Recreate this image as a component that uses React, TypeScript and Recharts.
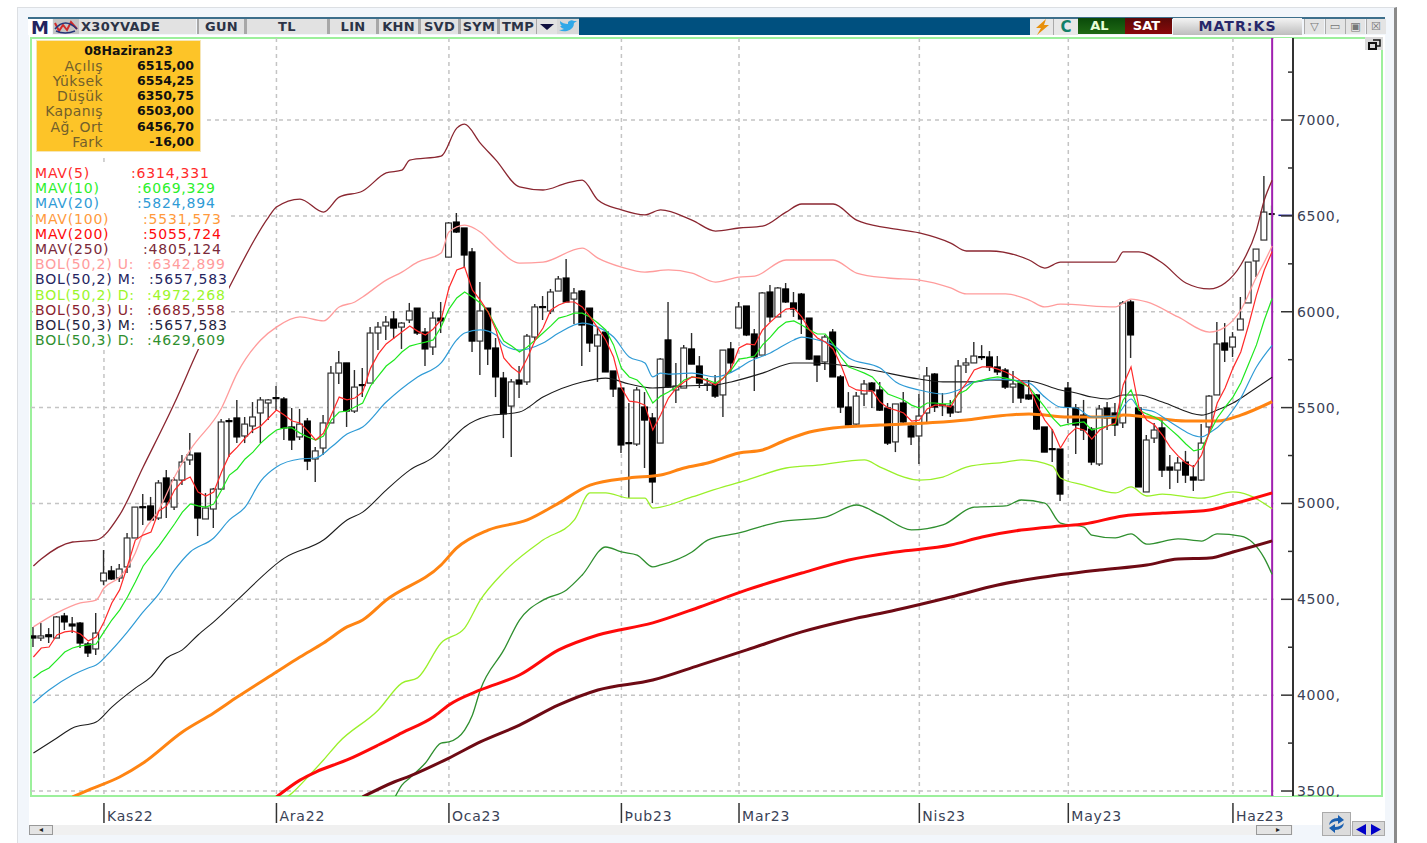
import {
  ComposedChart,
  Bar,
  Line,
  XAxis,
  YAxis,
  CartesianGrid,
  ReferenceArea,
  ReferenceLine,
} from "recharts";

const FONT = '"DejaVu Sans", Verdana, sans-serif';

const OPEN = [4309,4298,4315,4298,4413,4371,4376,4267,4241,4596,4648,4611,4669,4820,4983,4987,4924,5133,4981,5122,5227,5263,4919,4971,5075,5432,5446,5352,5404,5472,5524,5552,5545,5399,5347,5430,5232,5289,5420,5680,5733,5482,5620,5628,5889,5926,5962,5920,5957,6019,5894,5816,5967,6285,6468,6437,6312,5847,6019,5811,5654,5508,5644,5634,5868,6027,6004,6108,6176,6066,6108,6019,5821,5894,5691,5602,5317,5310,5503,5446,5315,5853,5592,5602,5806,5717,5618,5623,5566,5806,5915,6030,5884,5774,6103,5973,6119,6046,6092,5967,5769,5738,5894,5660,5503,5414,5571,5628,5592,5498,5321,5524,5404,5352,5472,5675,5515,5508,5477,5722,5733,5766,5764,5712,5696,5607,5628,5566,5566,5399,5286,5284,5602,5498,5461,5388,5206,5498,5472,5420,6051,5498,5060,5341,5394,5190,5174,5216,5138,5122,5399,5566,5837,5816,5905,6046,6265,6374,6515];
const HIGH = [4356,4376,4350,4413,4429,4408,4382,4277,4429,4757,4674,4684,4846,4981,5049,5034,5122,5174,5138,5253,5367,5263,5054,5081,5441,5445,5540,5451,5529,5555,5545,5613,5555,5498,5493,5446,5294,5461,5717,5795,5733,5696,5706,5920,5946,5978,6004,5946,6046,6019,5915,5999,6051,6468,6515,6437,6332,6155,6019,5863,5686,5649,5717,5884,6040,6082,6119,6186,6275,6124,6113,6019,5915,5894,5691,5602,5524,5607,5581,5472,5759,6051,5733,5827,5889,5769,5654,5670,5800,5842,6051,6030,5910,6103,6139,6129,6150,6103,6098,5967,5769,5879,5910,5670,5581,5581,5644,5634,5634,5524,5519,5581,5420,5571,5712,5680,5576,5540,5748,5759,5842,5826,5795,5769,5706,5691,5644,5644,5571,5399,5388,5284,5634,5519,5540,5399,5514,5529,5524,6056,6061,5498,5357,5420,5435,5253,5242,5274,5200,5414,5566,5946,5941,5894,6077,6259,6327,6708,6554];
const LOW = [4251,4283,4272,4298,4340,4324,4246,4199,4210,4575,4601,4590,4637,4820,4888,4914,4914,4924,4966,5096,5200,4830,4919,4872,5070,5242,5315,5315,5367,5315,5435,5487,5331,5279,5331,5174,5112,5253,5420,5623,5399,5472,5555,5628,5800,5853,5858,5806,5941,5879,5717,5774,5889,6285,6411,6233,5790,5670,5722,5555,5341,5242,5550,5618,5853,5957,5988,6108,6051,5936,5717,5790,5634,5686,5555,5263,5028,5300,5185,5002,5315,5602,5524,5602,5727,5602,5587,5550,5451,5680,5915,5873,5587,5774,5946,5973,6046,5973,5884,5748,5634,5696,5660,5472,5399,5409,5508,5498,5482,5305,5268,5420,5305,5206,5420,5477,5456,5451,5472,5680,5733,5748,5691,5670,5597,5524,5524,5540,5383,5268,5216,5013,5420,5258,5331,5200,5195,5383,5352,5394,5759,5086,5060,5315,5138,5075,5107,5107,5065,5117,5362,5566,5738,5764,5905,6046,6181,6374,6351];
const CLOSE = [4298,4309,4305,4408,4382,4361,4272,4220,4324,4637,4606,4658,4820,4981,4978,4914,5107,5008,5122,5216,5253,4924,4976,5075,5425,5428,5347,5414,5451,5540,5540,5548,5394,5331,5414,5221,5274,5420,5680,5733,5482,5607,5616,5889,5920,5946,5915,5941,6004,5889,5806,5967,5952,6463,6416,6296,5847,6004,5806,5660,5467,5634,5623,5873,6025,6023,6103,6171,6051,6098,5931,5837,5879,5686,5597,5305,5313,5592,5435,5112,5753,5607,5613,5811,5727,5628,5623,5560,5800,5733,6025,5879,5764,6098,5973,6124,6051,6014,5962,5753,5722,5868,5660,5503,5409,5560,5623,5587,5487,5315,5519,5425,5347,5456,5665,5503,5511,5472,5717,5733,5769,5762,5712,5686,5607,5623,5550,5545,5388,5268,5282,5049,5503,5409,5383,5216,5493,5446,5409,6046,5879,5086,5331,5383,5174,5174,5211,5148,5122,5315,5560,5832,5800,5868,5962,6259,6327,6520,6503];

const MAV5 = [4199,4246,4251,4314,4330,4335,4319,4283,4303,4382,4481,4549,4674,4809,4835,4851,4961,4987,5070,5117,5138,5060,5039,5060,5164,5253,5294,5341,5383,5404,5446,5487,5461,5430,5420,5378,5331,5367,5461,5555,5540,5550,5581,5706,5780,5832,5863,5894,5926,5899,5879,5910,5957,6124,6218,6233,6113,6061,5999,5905,5759,5712,5680,5759,5853,5915,6009,6035,6051,6051,6025,5973,5915,5853,5764,5602,5534,5529,5513,5383,5461,5550,5602,5634,5660,5654,5639,5618,5654,5706,5811,5832,5827,5905,5946,5983,6014,6019,5973,5905,5863,5842,5806,5722,5613,5592,5587,5587,5529,5498,5487,5472,5430,5435,5493,5513,5513,5503,5576,5628,5696,5712,5712,5701,5686,5665,5639,5607,5513,5435,5383,5289,5357,5394,5383,5336,5383,5404,5420,5618,5712,5503,5435,5409,5357,5294,5248,5211,5190,5253,5373,5524,5602,5706,5790,5931,6087,6218,6314];
const MAV10 = [4090,4121,4142,4183,4225,4246,4257,4262,4267,4330,4392,4444,4512,4590,4674,4726,4778,4835,4893,4955,4997,4987,4981,4997,5070,5148,5180,5232,5268,5315,5352,5383,5394,5394,5367,5347,5331,5352,5435,5477,5482,5503,5524,5613,5665,5717,5748,5790,5821,5832,5842,5853,5920,6014,6072,6103,6077,6046,5999,5920,5847,5821,5790,5816,5853,5889,5926,5967,5978,5993,5993,5973,5941,5905,5827,5706,5660,5644,5602,5524,5560,5581,5607,5644,5660,5654,5644,5628,5654,5696,5753,5759,5769,5827,5868,5915,5946,5952,5931,5905,5884,5884,5832,5764,5712,5696,5680,5660,5613,5571,5555,5540,5513,5498,5524,5524,5519,5519,5571,5592,5634,5644,5654,5660,5654,5644,5628,5607,5555,5503,5446,5404,5414,5420,5425,5383,5394,5404,5414,5540,5592,5487,5467,5451,5425,5388,5352,5310,5274,5284,5367,5446,5503,5555,5628,5727,5827,5957,6069];

// sparse series: [candle index, value]
const MAV20 = [[0,3959],[2,4027],[5,4105],[7,4142],[8,4157],[10,4236],[12,4330],[14,4434],[16,4528],[18,4653],[20,4747],[23,4820],[25,4914],[27,4981],[29,5117],[31,5190],[34,5232],[36,5237],[38,5294],[40,5362],[42,5399],[45,5529],[49,5660],[52,5733],[54,5853],[55,5889],[57,5905],[59,5879],[60,5826],[62,5800],[65,5837],[67,5889],[70,5941],[72,5920],[74,5868],[76,5764],[78,5733],[79,5660],[80,5680],[81,5675],[84,5680],[87,5660],[90,5706],[91,5733],[94,5785],[97,5853],[98,5868],[100,5853],[102,5826],[104,5759],[108,5706],[110,5634],[113,5592],[116,5571],[118,5592],[120,5634],[123,5649],[127,5628],[129,5555],[131,5503],[133,5498],[135,5451],[138,5456],[140,5545],[141,5498],[143,5477],[145,5425],[149,5347],[150,5367],[152,5435],[154,5550],[156,5712],[158,5825]];
const MAV100 = [[5,3469],[7,3505],[11,3573],[14,3646],[19,3808],[23,3907],[26,3990],[31,4121],[34,4199],[37,4272],[40,4356],[42,4392],[45,4496],[52,4679],[54,4768],[58,4861],[63,4914],[67,5002],[71,5096],[76,5133],[80,5148],[83,5185],[86,5211],[90,5263],[93,5279],[96,5331],[99,5373],[102,5394],[108,5409],[114,5420],[119,5435],[122,5451],[127,5467],[132,5451],[138,5451],[139,5461],[142,5451],[147,5430],[151,5430],[154,5461],[158,5531]];
const MAV200 = [[31,3469],[34,3557],[36,3599],[40,3662],[44,3740],[47,3803],[51,3886],[53,3949],[57,4027],[62,4105],[67,4236],[72,4314],[79,4377],[85,4460],[91,4549],[98,4637],[104,4705],[110,4747],[117,4783],[121,4825],[126,4861],[131,4882],[134,4893],[139,4935],[144,4950],[150,4966],[153,4997],[158,5055]];
const MAV250 = [[42,3469],[46,3547],[48,3578],[53,3672],[57,3756],[62,3844],[67,3949],[72,4027],[79,4079],[85,4157],[91,4236],[98,4330],[104,4392],[110,4444],[117,4512],[123,4575],[128,4611],[136,4653],[142,4679],[146,4710],[150,4715],[153,4747],[158,4805]];
const BOL2_UP = [[0,4356],[3,4429],[6,4481],[8,4496],[9,4559],[11,4616],[13,4742],[14,4846],[16,4966],[18,5138],[20,5279],[24,5498],[26,5680],[29,5853],[31,5920],[34,5973],[37,5952],[39,6025],[41,6051],[42,6077],[45,6165],[47,6207],[49,6259],[52,6306],[53,6416],[55,6452],[57,6416],[59,6338],[62,6254],[65,6259],[70,6332],[72,6280],[75,6233],[78,6207],[81,6218],[84,6202],[87,6155],[90,6181],[92,6186],[96,6270],[102,6270],[105,6202],[109,6176],[113,6165],[117,6124],[119,6093],[124,6093],[127,6061],[129,6025],[131,6040],[138,6025],[140,6066],[142,6051],[146,5973],[150,5894],[152,5920],[154,6009],[156,6181],[157,6259],[158,6343]];
const BOL2_MID = [[0,3698],[3,3777],[5,3829],[8,3860],[10,3938],[13,4037],[15,4095],[17,4194],[19,4236],[21,4314],[23,4382],[26,4496],[32,4715],[37,4809],[40,4914],[42,4955],[45,5070],[48,5174],[51,5242],[53,5321],[55,5399],[58,5456],[62,5477],[65,5555],[70,5634],[73,5654],[76,5623],[79,5602],[83,5613],[87,5618],[89,5634],[93,5680],[97,5733],[99,5733],[104,5717],[107,5696],[113,5649],[116,5634],[120,5634],[122,5644],[127,5639],[131,5592],[133,5576],[135,5555],[137,5545],[139,5566],[141,5566],[144,5529],[149,5461],[151,5487],[153,5524],[155,5576],[158,5658]];
const BOL2_LOW = [[32,3458],[33,3490],[35,3573],[37,3662],[39,3756],[44,3923],[47,4063],[49,4090],[52,4272],[55,4350],[57,4496],[60,4642],[65,4809],[69,4914],[71,5055],[73,5055],[76,5028],[78,5028],[79,4976],[80,4981],[84,5034],[88,5086],[91,5122],[96,5185],[100,5200],[106,5227],[108,5190],[113,5122],[116,5138],[119,5190],[124,5216],[126,5227],[130,5195],[131,5133],[134,5096],[138,5055],[140,5086],[142,5039],[144,5049],[149,5028],[153,5060],[155,5044],[158,4972]];
const BOL3_UP = [[0,4674],[1,4710],[5,4799],[8,4809],[11,4940],[14,5190],[18,5524],[21,5800],[25,6129],[30,6494],[31,6546],[34,6588],[37,6520],[39,6598],[42,6630],[45,6724],[47,6739],[48,6791],[52,6812],[54,6958],[55,6979],[57,6880],[59,6791],[62,6651],[65,6635],[68,6671],[70,6687],[72,6583],[75,6531],[78,6505],[80,6531],[84,6478],[87,6421],[90,6437],[93,6447],[96,6520],[98,6562],[102,6562],[105,6478],[109,6437],[113,6411],[117,6358],[119,6317],[122,6317],[127,6270],[129,6228],[131,6259],[138,6259],[139,6312],[141,6312],[144,6254],[147,6150],[150,6119],[152,6150],[154,6244],[156,6426],[157,6583],[158,6686]];
const BOL3_LOW = [[46,3458],[47,3531],[48,3568],[50,3646],[52,3750],[53,3756],[55,3818],[56,3897],[57,4027],[60,4236],[62,4392],[65,4496],[68,4549],[70,4627],[73,4773],[75,4747],[77,4731],[79,4669],[80,4679],[84,4747],[86,4809],[90,4846],[95,4903],[101,4929],[105,4992],[108,4940],[112,4862],[116,4888],[120,4981],[124,4987],[126,5018],[129,5002],[131,4898],[134,4877],[135,4835],[138,4820],[140,4841],[142,4788],[146,4815],[149,4804],[151,4841],[154,4830],[157,4715],[158,4630]];

const PRICE_TICKS = [3500,3750,4000,4250,4500,4750,5000,5250,5500,5750,6000,6250,6500,6750,7000,7250];
const PRICE_GRID = [3500,4000,4500,5000,5500,6000,6500,7000];
const MONTH_AT = [9,31,53,75,90,113,132,153];
const MONTH_LABELS = ["Kas22","Ara22","Oca23","Þub23","Mar23","Nis23","May23","Haz23"];

const INFO_TITLE = "08Haziran23";
const INFO_NAMES = ["Açılış","Yüksek","Düşük","Kapanış","Ağ. Ort","Fark"];
const INFO_VALUES = ["6515,00","6554,25","6350,75","6503,00","6456,70","-16,00"];

const LEGEND_NAMES = ["MAV(5)","MAV(10)","MAV(20)","MAV(100)","MAV(200)","MAV(250)","BOL(50,2) U:","BOL(50,2) M:","BOL(50,2) D:","BOL(50,3) U:","BOL(50,3) M:","BOL(50,3) D:"];
const LEGEND_VALUES = [":6314,331",":6069,329",":5824,894",":5531,573",":5055,724",":4805,124",":6342,899",":5657,583",":4972,268",":6685,558",":5657,583",":4629,609"];
const LEGEND_VALUE_X = [131,137,137,143,143,143,147,149,147,147,149,147];

const C_MAV5 = "#ff2a2a";
const C_MAV10 = "#1fe81f";
const C_MAV20 = "#2f9bd6";
const C_MAV100 = "#ff8412";
const C_MAV200 = "#ff0a0a";
const C_MAV250 = "#6e0a14";
const C_UP2 = "#ff9c9c";
const C_MID = "#1c1c1c";
const C_LOW2 = "#9af02a";
const C_UP3 = "#8a2630";
const C_LOW3 = "#2f8f2f";
const LEGEND_COLORS = [C_MAV5,"#2cf02c",C_MAV20,"#ff9a3c",C_MAV200,"#7a2a3a",C_UP2,"#25255f","#9cf52c","#8a1f30","#25253f","#2f8f2f"];

const SPARSE = { MAV20, MAV100, MAV200, MAV250, BOL2_UP, BOL2_MID, BOL2_LOW, BOL3_UP, BOL3_LOW };

const rows: any[] = OPEN.map((o, i) => ({
  i,
  open: o,
  close: CLOSE[i],
  range: [LOW[i], HIGH[i]],
  high: HIGH[i],
  low: LOW[i],
  MAV5: MAV5[i],
  MAV10: MAV10[i],
}));
Object.entries(SPARSE).forEach(([key, pts]) => {
  pts.forEach(([i, v]) => {
    rows[i][key] = v;
  });
});

const LAST = OPEN.length - 1;

function Candle(props: any) {
  const { x, y, width, height, payload } = props;
  const { open, close, high, low, i } = payload;
  const perUnit = height / Math.max(high - low, 1);
  const cx = x + width / 2;
  const top = y + (high - Math.max(open, close)) * perUnit;
  const bottom = y + (high - Math.min(open, close)) * perUnit;
  const up = close >= open;
  if (i === LAST) {
    return (
      <g>
        <line x1={cx} x2={cx} y1={y} y2={y + height} stroke="#8ef58e" strokeWidth={2} />
        <rect x={cx - 3} y={top} width={6} height={2} fill="#111" />
      </g>
    );
  }
  return (
    <g>
      <line x1={cx} x2={cx} y1={y} y2={y + height} stroke="#2a2a2a" strokeWidth={1.4} />
      <rect
        x={x + 0.6}
        y={top}
        width={width - 1.2}
        height={Math.max(bottom - top, 1)}
        fill={up ? "#fff" : "#000"}
        stroke={up ? "#333" : "#000"}
        strokeWidth={1.2}
      />
    </g>
  );
}

function PriceTick(props: any) {
  const { x, y, payload } = props;
  const major = payload.value % 500 === 0;
  const boxTop = y - 9;
  return (
    <g>
      <line x1={x - (major ? 12 : 5)} x2={x} y1={y} y2={y} stroke="#333" strokeWidth={1.5} />
      {major && (
        <svg x={x + 4} y={boxTop} width={60} height={Math.min(18, 797 - boxTop)} overflow="hidden">
          <text x={0} y={14} fontSize={14} letterSpacing={0.7} fill="#3a4256" fontFamily={FONT}>
            {payload.value},
          </text>
        </svg>
      )}
    </g>
  );
}

function MonthTick(props: any) {
  const { x, y, payload } = props;
  const label = MONTH_LABELS[MONTH_AT.indexOf(payload.value)];
  return (
    <g>
      <line x1={x} x2={x} y1={y + 7} y2={y + 27} stroke="#333" strokeWidth={1.5} />
      <text x={x + 3} y={y + 25} fontSize={14} letterSpacing={0.8} fill="#3a4256" fontFamily={FONT}>
        {label}
      </text>
    </g>
  );
}

function Box({ l, t, w, h, style, children }: any) {
  return (
    <div style={{ position: "absolute", left: l, top: t, width: w, height: h, boxSizing: "border-box", ...style }}>
      {children}
    </div>
  );
}

function ToolButton({ l, w, label }: any) {
  return (
    <Box
      l={l}
      t={19}
      w={w}
      h={15}
      style={{
        background: "#e2e2e2",
        borderRight: "2px solid #a8a8a8",
        borderLeft: "2px solid #a8a8a8",
        textAlign: "center",
        font: `bold 13px/15px ${FONT}`,
        color: "#2b3346",
        letterSpacing: 0.3,
      }}
    >
      {label}
    </Box>
  );
}

function Chrome() {
  return (
    <>
      <Box l={17} t={7} w={1380} h={836} style={{ background: "#f2f6fb", border: "1px solid #dcdfe3", borderRight: "3px solid #8a8a8a", borderBottom: "none" }} />
      <Box l={29} t={35} w={1356} h={790} style={{ background: "#fff" }} />
      <Box l={28} t={17} w={1357} h={2} style={{ background: "#3d6f8c" }} />
      <Box l={30} t={37} w={1353} h={760} style={{ border: "2px solid #9cf09c" }} />
      <Box l={28} t={19} w={24} h={16} style={{ background: "#fff", font: `bold 18px/17px ${FONT}`, color: "#23235f", textAlign: "center" }}>
        M
      </Box>
      <Box l={53} t={19} w={26} h={15} style={{ background: "#c4c4c4" }}>
        <svg width={26} height={15}>
          <polyline points="2,4 6,12 10,6 14,11 18,3 24,10" fill="none" stroke="#d02a2a" strokeWidth={2} />
          <path d="M2 10 Q12 -2 24 10 M3 12 Q12 16 22 12" fill="none" stroke="#25357a" strokeWidth={1.5} />
        </svg>
      </Box>
      <Box l={79} t={19} w={117} h={15} style={{ background: "#e2e2e2", font: `bold 13px/15px ${FONT}`, color: "#2b3346", paddingLeft: 2, letterSpacing: 0.35 }}>
        X30YVADE
      </Box>
      <ToolButton l={197} w={49} label="GUN" />
      <ToolButton l={245} w={84} label="TL" />
      <ToolButton l={328} w={50} label="LIN" />
      <ToolButton l={377} w={43} label="KHN" />
      <ToolButton l={419} w={41} label="SVD" />
      <ToolButton l={459} w={40} label="SYM" />
      <ToolButton l={498} w={40} label="TMP" />
      <Box l={537} t={19} w={20} h={15} style={{ background: "#e2e2e2" }}>
        <svg width={20} height={15}>
          <polygon points="3,5 17,5 10,11" fill="#10103f" />
        </svg>
      </Box>
      <Box l={557} t={19} w={22} h={15} style={{ background: "#d8d8d8" }}>
        <svg width={22} height={15}>
          <path d="M2 11 Q6 13 10 12 Q17 10 17 4 L20 2 L17 2 Q14 0 11 3 L11 5 Q6 5 3 2 Q3 6 5 7 L3 7 Q5 10 7 10 Q5 11 2 11 Z" fill="#2fa8e8" />
        </svg>
      </Box>
      <Box l={579} t={18} w={451} h={17} style={{ background: "#00507f" }} />
      <Box l={1030} t={19} w={24} h={16} style={{ background: "#e8e8e8", borderRight: "1px solid #aaa" }}>
        <svg width={24} height={16}>
          <polygon points="16,0 6,9 11,9 7,16 19,6 14,6" fill="#e8900c" />
        </svg>
      </Box>
      <Box l={1054} t={19} w={24} h={16} style={{ background: "#e8e8e8", font: `bold 15px/16px ${FONT}`, color: "#12806a", textAlign: "center" }}>
        C
      </Box>
      <Box l={1078} t={18} w={47} h={16} style={{ background: "linear-gradient(#0a4a0a,#1f6a14)", font: `bold 13px/16px ${FONT}`, color: "#e8ffd8", textAlign: "center", paddingRight: 4 }}>
        AL
      </Box>
      <Box l={1125} t={18} w={47} h={16} style={{ background: "linear-gradient(#5a0808,#8a0a0a)", font: `bold 13px/16px ${FONT}`, color: "#fff", textAlign: "center", paddingRight: 4 }}>
        SAT
      </Box>
      <Box l={1173} t={18} w={129} h={17} style={{ background: "linear-gradient(#f4f4f4,#bdbdbd)", font: `bold 14px/17px ${FONT}`, color: "#27276b", textAlign: "center", letterSpacing: 1.1 }}>
        MATR:KS
      </Box>
      {["▽", "▭", "▣", "☒"].map((g, n) => (
        <Box
          key={g}
          l={1304 + n * 20.5}
          t={19}
          w={20}
          h={15}
          style={{ background: "#e4e4e4", font: `11px/15px ${FONT}`, color: "#777", textAlign: "center", borderLeft: "1px solid #aaa" }}
        >
          {g}
        </Box>
      ))}
      <Box l={29} t={825} w={1264} h={10} style={{ background: "#f0f0f0" }} />
      <Box l={29} t={825} w={24} h={10} style={{ background: "#e4e4e4", border: "1px solid #999", font: `8px/8px ${FONT}`, textAlign: "center", color: "#222" }}>
        ◂
      </Box>
      <Box l={1256} t={825} w={36} h={10} style={{ background: "#e4e4e4", border: "1px solid #999", font: `8px/8px ${FONT}`, textAlign: "right", paddingRight: 11, color: "#222" }}>
        ▸
      </Box>
      <Box l={1322} t={812} w={29} h={24} style={{ background: "#dcdcdc", border: "1px solid #aaa" }}>
        <svg width={27} height={22}>
          <path d="M6 12 Q7 5 15 5 L15 2 L21 7 L15 11 L15 8 Q10 8 6 12 Z M21 10 Q20 17 12 17 L12 20 L6 15 L12 11 L12 14 Q17 14 21 10 Z" fill="#1a5fb0" />
        </svg>
      </Box>
      <Box l={1352} t={821} w={33} h={15} style={{ background: "#d8d8d8", border: "1px solid #aaa" }}>
        <svg width={31} height={13}>
          <polygon points="3,6.5 13,1 13,12" fill="#0000c8" />
          <polygon points="28,6.5 18,1 18,12" fill="#0000c8" />
        </svg>
      </Box>
    </>
  );
}

function Overlays() {
  return (
    <>
      <Box l={1365} t={37} w={18} h={13} style={{ background: "#dadada" }}>
        <svg width={18} height={13}>
          <rect x={4} y={5} width={7} height={6} fill="none" stroke="#111" strokeWidth={2} />
          <path d="M8 2 H15 V8 H12" fill="none" stroke="#111" strokeWidth={1.5} />
        </svg>
      </Box>
      <Box l={32} t={39} w={172} h={116} style={{ background: "#fff" }} />
      <Box l={36} t={40} w={165} h={112} style={{ background: "#fdc428", border: "1px solid #f6e6b8" }} />
      <Box l={46} t={43} w={165} h={16} style={{ font: `bold 12.5px/16px ${FONT}`, color: "#111", textAlign: "center" }}>
        {INFO_TITLE}
      </Box>
      {INFO_NAMES.map((name, n) => (
        <div key={name}>
          <Box l={36} t={57.7 + n * 15.2} w={67} h={16} style={{ font: `14px/16px ${FONT}`, letterSpacing: 0.4, color: "#72602c", textAlign: "right", whiteSpace: "nowrap" }}>
            {name}
          </Box>
          <Box l={110} t={57.7 + n * 15.2} w={84} h={16} style={{ font: `bold 12.5px/16px ${FONT}`, color: "#111", textAlign: "right" }}>
            {INFO_VALUES[n]}
          </Box>
        </div>
      ))}
      <Box l={33} t={165} w={196} h={184} style={{ background: "#fff" }} />
      {LEGEND_NAMES.map((name, n) => (
        <div key={name + n} style={{ color: LEGEND_COLORS[n], font: `14px/16px ${FONT}`, letterSpacing: 0.8, whiteSpace: "nowrap" }}>
          <Box l={35} t={165 + n * 15.2} w={110} h={16}>
            {name}
          </Box>
          <Box l={LEGEND_VALUE_X[n]} t={165 + n * 15.2} w={90} h={16}>
            {LEGEND_VALUES[n]}
          </Box>
        </div>
      ))}
    </>
  );
}

const series: [string, string, number][] = [
  ["BOL3_UP", C_UP3, 1.3],
  ["BOL3_LOW", C_LOW3, 1.3],
  ["BOL2_UP", C_UP2, 1.3],
  ["BOL2_LOW", C_LOW2, 1.3],
  ["MAV250", C_MAV250, 3],
  ["MAV200", C_MAV200, 3],
  ["MAV100", C_MAV100, 3],
  ["BOL2_MID", C_MID, 1.1],
  ["MAV20", C_MAV20, 1.2],
  ["MAV10", C_MAV10, 1.2],
  ["MAV5", C_MAV5, 1.2],
];

export default function App() {
  return (
    <div style={{ position: "absolute", left: 0, top: 0, width: 1427, height: 843, overflow: "hidden", background: "#fff" }}>
      <Chrome />
      <div style={{ position: "absolute", left: 0, top: 0 }}>
        <ComposedChart width={1427} height={843} data={rows} margin={{ top: 38, left: 31, right: 0, bottom: 0 }}>
          <CartesianGrid
            stroke="#c4c4c4"
            strokeWidth={1.5}
            strokeDasharray="4 4"
            horizontalValues={PRICE_GRID}
            verticalValues={MONTH_AT}
          />
          <XAxis
            type="number"
            dataKey="i"
            domain={[-0.306, 160.66]}
            ticks={MONTH_AT}
            allowDataOverflow
            interval={0}
            height={47}
            axisLine={false}
            tickLine={false}
            tickSize={0}
            tickMargin={0}
            tick={<MonthTick />}
          />
          <YAxis
            orientation="right"
            domain={[3474, 7428]}
            ticks={PRICE_TICKS}
            allowDataOverflow
            interval={0}
            width={134}
            axisLine={{ stroke: "#333", strokeWidth: 2 }}
            tickLine={false}
            tickSize={0}
            tickMargin={0}
            tick={<PriceTick />}
          />
          <ReferenceArea x1={158.2} x2={160.66} fill="#fff" fillOpacity={1} />
          <ReferenceLine x={158} stroke="#a020b0" strokeWidth={2} />
          <ReferenceLine
            segment={[
              { x: 158.8, y: 6503 },
              { x: 160.6, y: 6503 },
            ]}
            stroke="#10108a"
            strokeWidth={1.5}
          />
          <Bar dataKey="range" barSize={7} isAnimationActive={false} shape={<Candle />} />
          {series.map(([key, color, w]) => (
            <Line
              key={key}
              dataKey={key}
              stroke={color}
              strokeWidth={w}
              dot={false}
              activeDot={false}
              connectNulls
              type={key === "MAV5" || key === "MAV10" ? "linear" : "monotone"}
              isAnimationActive={false}
            />
          ))}
        </ComposedChart>
      </div>
      <Overlays />
    </div>
  );
}
